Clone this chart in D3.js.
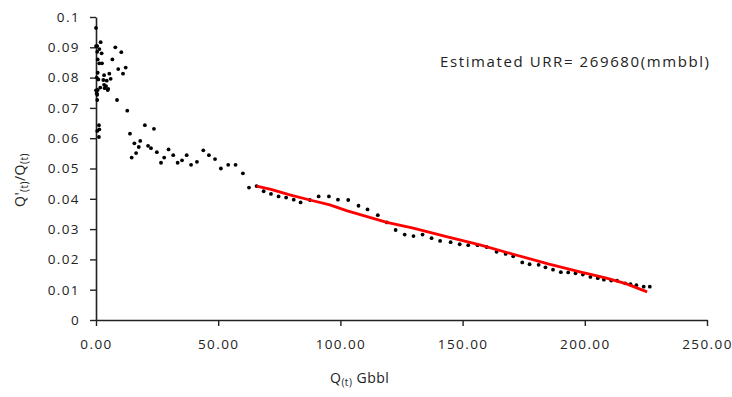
<!DOCTYPE html>
<html><head><meta charset="utf-8">
<script src="https://cdn.jsdelivr.net/npm/d3@7"></script>
<style>
body{margin:0;background:#fff;}
text{font-family:"Open Sans",sans-serif;fill:#222;}
</style></head><body>
<svg id="c" width="732" height="397"></svg>
<script>
// Observed data: cumulative production Q(t) (Gbbl) and Q'(t)/Q(t)
const qValues = [0,0,0.5,1.9,1.35,0.5,2.3,0.7,1.35,2.45,6.7,7.9,10.35,9.1,12.15,11.05,5.45,6.0,3.3,0.7,0.3,0.95,3.0,4.4,3.3,4.1,1.75,3.55,4.8,5.0,0,0.7,0.3,0.5,0.5,8.6,12.8,1.2,1.35,0.5,1.2,13.9,20.0,23.7,15.7,18.1,17.5,16.4,14.6,21.3,22.5,24.9,26.6,27.9,29.7,31.6,33.4,35.2,37.1,38.9,41.3,43.9,46.2,48.7,51.1,54.1,57.1,60.1,62.6,65.7,68.6,71.6,74.7,77.8,80.9,83.7,87.5,91.1,95.3,99.0,103.2,107.4,111.1,115.3,119.0,122.6,126.3,129.9,133.6,137.3,140.8,145.1,148.8,152.3,156.1,159.8,163.9,167.6,170.7,174.4,177.4,181.1,183.9,187.0,190.2,193.2,196.2,199.2,202.3,205.3,207.8,210.8,213.2,216.5,218.7,221.1,224.1,226.6];
const ratioValues = [0.0964,0.0904,0.0904,0.0917,0.0894,0.0885,0.0880,0.0860,0.0847,0.0847,0.0860,0.0900,0.0884,0.0828,0.0833,0.0813,0.0813,0.0796,0.0808,0.0816,0.0800,0.0794,0.0792,0.0790,0.0776,0.0772,0.0767,0.0765,0.0759,0.0763,0.0758,0.0759,0.0748,0.0743,0.0726,0.0726,0.0691,0.0643,0.0629,0.0624,0.0604,0.0615,0.0643,0.0631,0.0583,0.0591,0.0571,0.0551,0.0536,0.0575,0.0567,0.0554,0.0519,0.0536,0.0563,0.0544,0.0519,0.0527,0.0544,0.0512,0.0522,0.0560,0.0544,0.0531,0.0500,0.0512,0.0512,0.0484,0.0437,0.0442,0.0425,0.0416,0.0408,0.0404,0.0397,0.0388,0.0396,0.0408,0.0408,0.0397,0.0396,0.0377,0.0365,0.0346,0.0322,0.0297,0.0282,0.0277,0.0282,0.0270,0.0261,0.0257,0.0250,0.0247,0.0247,0.0241,0.0225,0.0218,0.0210,0.0190,0.0184,0.0182,0.0174,0.0166,0.0158,0.0157,0.0154,0.0150,0.0142,0.0138,0.0133,0.0130,0.0130,0.0121,0.0118,0.0115,0.0110,0.0110];
// Fitted line (red)
const fitQ = [65.7,71.6,79.3,87.5,95.7,102.5,119.0,129.8,143.4,157.1,170.7,185.0,198.0,208.9,217.1,225.5];
const fitRatio = [0.0442,0.0431,0.0413,0.0396,0.0380,0.0361,0.0322,0.0303,0.0275,0.0248,0.0217,0.0185,0.0159,0.0138,0.0119,0.0093];
const xTicks = [0,50,100,150,200,250];
const yTicks = [0,0.01,0.02,0.03,0.04,0.05,0.06,0.07,0.08,0.09,0.1];
const yTickLabels = ["0","0.01","0.02","0.03","0.04","0.05","0.06","0.07","0.08","0.09","0.1"];
const annotation = "Estimated URR= 269680(mmbbl)";

const svg = d3.select("#c");
const x = d3.scaleLinear().domain([0,250]).range([96,707]);
const y = d3.scaleLinear().domain([0,0.1]).range([320,17]);

// axes
const xa = svg.append("g").attr("transform","translate(0,320)")
  .call(d3.axisBottom(x).tickValues(xTicks).tickFormat(d3.format(".2f")).tickSize(6).tickSizeOuter(0));
xa.selectAll("text").attr("dy","0").attr("y",29).style("font-size","13.5px").style("letter-spacing","1.4px");
const ya = svg.append("g").attr("transform","translate(96,0)")
  .call(d3.axisLeft(y).tickValues(yTicks).tickFormat((d,i)=>yTickLabels[i]).tickSize(6).tickSizeOuter(0));
ya.selectAll("text").attr("x",-16).style("font-size","13.5px").style("letter-spacing","1.4px");
svg.selectAll(".domain").attr("stroke","#222").attr("stroke-width",1.6);
svg.selectAll(".tick line").attr("stroke","#222").attr("stroke-width",1.4);
svg.selectAll(".tick text").style("fill","#222").style("font-family","'Open Sans',sans-serif");

// points
const pts = qValues.map((q,i)=>[q,ratioValues[i]]);
svg.append("g").selectAll("circle").data(pts).join("circle")
  .attr("cx", d=>x(d[0])).attr("cy", d=>y(d[1])).attr("r",1.9)
  .attr("fill","#000");

// fitted line
const fit = fitQ.map((q,i)=>[q,fitRatio[i]]);
svg.append("path").datum(fit)
  .attr("d", d3.line().x(d=>x(d[0])).y(d=>y(d[1])))
  .attr("fill","none").attr("stroke","#ff0000").attr("stroke-width",2.8);

// annotation
svg.append("text").attr("x",440).attr("y",67).style("font-size","15px").style("letter-spacing","1.6px").text(annotation);

// axis titles
const xt = svg.append("text").attr("x",330).attr("y",383).style("font-size","14px").style("letter-spacing","0.5px");
xt.append("tspan").text("Q");
xt.append("tspan").attr("dy",3).style("font-size","10px").text("(t)");
xt.append("tspan").attr("dy",-3).text(" Gbbl");

const yt = svg.append("text").attr("transform","translate(25,207) rotate(-90)").style("font-size","14px").style("letter-spacing","0.5px");
yt.append("tspan").text("Q'");
yt.append("tspan").attr("dy",3).style("font-size","10px").text("(t)");
yt.append("tspan").attr("dy",-3).text("/Q");
yt.append("tspan").attr("dy",3).style("font-size","10px").text("(t)");
</script></body></html>
